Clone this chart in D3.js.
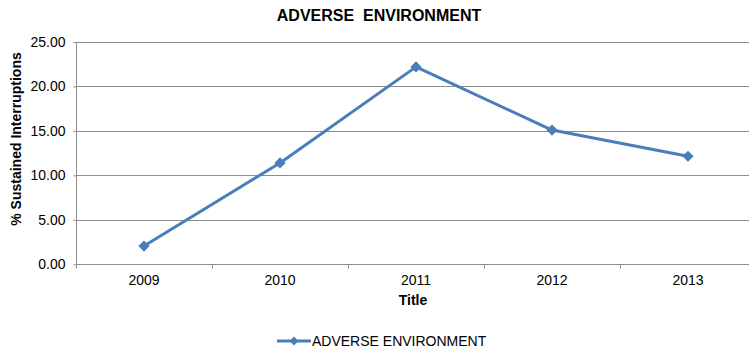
<!DOCTYPE html>
<html><head><meta charset="utf-8">
<script src="https://cdn.jsdelivr.net/npm/d3@7"></script>
<style>body{margin:0;background:#fff;} svg{display:block;font-family:"Liberation Sans",Arial,sans-serif;}</style>
</head><body>
<svg id="c" width="749" height="354"></svg>
<script>
const categories = ["2009","2010","2011","2012","2013"];
const values = [2.05, 11.4, 22.2, 15.1, 12.15];
const yTicks = [0,5,10,15,20,25];
const seriesName = "ADVERSE ENVIRONMENT";
const chartTitle = "ADVERSE  ENVIRONMENT";
const xTitle = "Title";
const yTitle = "% Sustained Interruptions";

(function(){
const svg = d3.select("#c");
const color = "#4a7ebb";
const grid = "#8c8c8c";
const mLeft = 76, mTop = 42, mBottom = 264.3, mRight = 756;

const x = d3.scaleBand().domain(categories).range([mLeft, mRight]);
const y = d3.scaleLinear().domain([0,25]).range([mBottom, mTop]);

// gridlines
svg.append("g").selectAll("line").data(yTicks.filter(d=>d>0)).join("line")
  .attr("x1", mLeft).attr("x2", 749)
  .attr("y1", d=>Math.round(y(d))+0.5).attr("y2", d=>Math.round(y(d))+0.5)
  .attr("stroke", grid).attr("stroke-width",1);

// y axis
const yAxis = d3.axisLeft(y).tickValues(yTicks).tickFormat(d3.format(".2f")).tickSize(3).tickPadding(8);
const gy = svg.append("g").attr("transform",`translate(${mLeft+0.5},0)`).call(yAxis);
gy.select(".domain").attr("stroke",grid).attr("d",`M0,${mTop}V${mBottom}`);
gy.selectAll(".tick line").attr("stroke",grid);
gy.selectAll(".tick text").attr("font-size",14).attr("fill","#000").attr("font-family","Liberation Sans, Arial, sans-serif");

// x axis
const xAxis = d3.axisBottom(x).tickSize(0).tickPadding(11);
const gx = svg.append("g").attr("transform",`translate(0,${Math.round(mBottom)+0.5})`).call(xAxis);
gx.select(".domain").remove();
gx.selectAll(".tick text").attr("font-size",14).attr("fill","#000").attr("font-family","Liberation Sans, Arial, sans-serif");
gx.append("line").attr("x1",mLeft).attr("x2",749).attr("y1",0).attr("y2",0).attr("stroke",grid);
gx.selectAll("line.bt").data(categories).join("line").attr("class","bt")
  .attr("x1",d=>Math.round(x(d))+0.5).attr("x2",d=>Math.round(x(d))+0.5)
  .attr("y1",0).attr("y2",4).attr("stroke",grid);

// line
const line = d3.line().x((d,i)=>x(categories[i])+x.bandwidth()/2).y(d=>y(d));
svg.append("path").datum(values).attr("d",line).attr("fill","none")
  .attr("stroke",color).attr("stroke-width",3).attr("stroke-linejoin","round");
const diamond = d3.symbol().type(d3.symbolDiamond2).size(80);
svg.append("g").selectAll("path").data(values).join("path")
  .attr("d", diamond)
  .attr("transform",(d,i)=>`translate(${x(categories[i])+x.bandwidth()/2},${y(d)})`)
  .attr("fill",color);

// titles
svg.append("text").attr("x",379).attr("y",21).attr("text-anchor","middle")
  .attr("font-size",16).attr("font-weight","bold").style("white-space","pre").text(chartTitle);
svg.append("text").attr("x",413).attr("y",305).attr("text-anchor","middle")
  .attr("font-size",14).attr("font-weight","bold").text(xTitle);
svg.append("text").attr("transform","translate(21,139) rotate(-90)").attr("text-anchor","middle")
  .attr("font-size",14).attr("font-weight","bold").text(yTitle);

// legend
const lg = svg.append("g").attr("transform","translate(277,341)");
lg.append("line").attr("x1",0).attr("x2",34).attr("y1",0).attr("y2",0).attr("stroke",color).attr("stroke-width",3);
lg.append("path").attr("d",d3.symbol().type(d3.symbolDiamond2).size(50)).attr("transform","translate(17,0)").attr("fill",color);
lg.append("text").attr("x",35).attr("y",5).attr("font-size",14).text(seriesName);
})();
</script>
</body></html>
